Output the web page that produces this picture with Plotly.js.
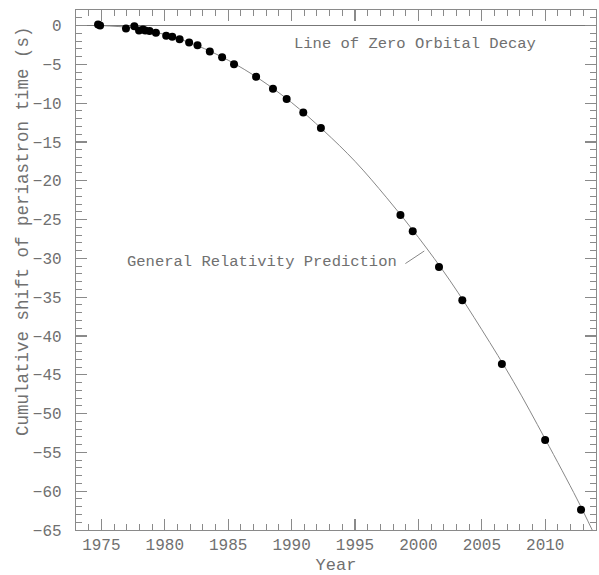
<!DOCTYPE html>
<html>
<head>
<meta charset="utf-8">
<script src="https://cdn.plot.ly/plotly-3.0.1.min.js"></script>
<style>html,body{margin:0;padding:0;background:#fff;}#chart{width:599px;height:575px;}</style>
</head>
<body>
<div id="chart"></div>
<script>
// Measured periastron shift data (year, seconds)
const obsYears = [1974.74, 1974.9, 1976.94, 1977.6, 1977.97, 1978.28, 1978.46, 1978.8, 1979.3,
  1980.11, 1980.59, 1981.17, 1981.92, 1982.58, 1983.55, 1984.52, 1985.46, 1987.2, 1988.53,
  1989.61, 1990.92, 1992.31, 1998.58, 1999.55, 2001.62, 2003.46, 2006.58, 2009.99, 2012.82];
const obsShift = [0.13, 0.0, -0.39, -0.09, -0.64, -0.51, -0.64, -0.69, -0.94,
  -1.33, -1.46, -1.76, -2.19, -2.53, -3.35, -4.08, -4.98, -6.61, -8.15,
  -9.48, -11.2, -13.2, -24.4, -26.5, -31.1, -35.4, -43.6, -53.4, -62.4];
// General relativity prediction curve
const grYears = [1974.8, 1977.5, 1980, 1982.5, 1985, 1987.5, 1990, 1992.5, 1995, 1997.5, 2000, 2002.5, 2005, 2007.5, 2010, 2012.5, 2013.7];
const grShift = [0, -0.31, -1.16, -2.55, -4.47, -6.93, -9.93, -13.5, -17.5, -22.2, -27.3, -32.9, -39.2, -45.9, -53.3, -61.0, -65.0];
// Line of zero orbital decay
const zeroYears = [1973, 2014];
const zeroShift = [0, 0];
const xTicks = [1975, 1980, 1985, 1990, 1995, 2000, 2005, 2010];
const yTicks = [0, -5, -10, -15, -20, -25, -30, -35, -40, -45, -50, -55, -60, -65];

const FONT = "Liberation Mono, Courier New, monospace";
const TXT = "#707070";
const AX = "#8a8a8a";

const traces = [
  {x: zeroYears, y: zeroShift, mode: 'lines', line: {color: '#777', width: 1.2}, hoverinfo: 'skip'},
  {x: grYears, y: grShift, mode: 'lines', line: {color: '#888', width: 1, shape: 'spline'}, hoverinfo: 'skip'},
  {x: obsYears, y: obsShift, mode: 'markers', marker: {color: '#000', size: 8}}
];

const axCommon = {
  showgrid: false, zeroline: false, showline: true, linecolor: AX, linewidth: 1.2,
  mirror: 'allticks', ticks: 'inside', ticklen: 11, tickwidth: 1.2, tickcolor: AX,
  tickfont: {family: FONT, size: 16, color: TXT},
  minor: {ticks: 'inside', ticklen: 6, tickwidth: 1, tickcolor: AX, showgrid: false}
};

const layout = {
  width: 599, height: 575,
  margin: {l: 76, r: 3, t: 10, b: 45},
  paper_bgcolor: '#fff', plot_bgcolor: '#fff',
  showlegend: false,
  xaxis: Object.assign({}, axCommon, {
    range: [1973, 2014], tickmode: 'array', tickvals: xTicks, ticktext: xTicks.map(String),
    minor: Object.assign({}, axCommon.minor, {dtick: 1, tick0: 1973}),
    title: {text: 'Year', font: {family: FONT, size: 17, color: TXT}, standoff: 5}
  }),
  yaxis: Object.assign({}, axCommon, {
    range: [-65, 2], tickmode: 'array', tickvals: yTicks,
    ticktext: yTicks.map(v => v < 0 ? '\u2212' + Math.abs(v) : String(v)),
    ticklabelstandoff: 10,
    minor: Object.assign({}, axCommon.minor, {dtick: 1, tick0: 0})
  }),
  annotations: [
    {x: -0.102, y: 0.575, xref: 'paper', yref: 'paper', xanchor: 'center', yanchor: 'middle', textangle: -90,
     text: 'Cumulative shift of periastron time (s)', showarrow: false,
     font: {family: FONT, size: 17.5, color: TXT}},
    {x: 1999.72, y: -2.36, xref: 'x', yref: 'y', text: 'Line of Zero Orbital Decay', showarrow: false,
     font: {family: FONT, size: 15.5, color: TXT}},
    {x: 1987.68, y: -30.5, xref: 'x', yref: 'y', text: 'General Relativity Prediction', showarrow: false,
     font: {family: FONT, size: 15.5, color: TXT}}
  ],
  shapes: [
    {type: 'line', xref: 'x', yref: 'y', x0: 1998.97, y0: -30.67, x1: 2000.46, y1: -29.05,
     line: {color: '#888', width: 1}}
  ]
};

Plotly.newPlot('chart', traces, layout, {displayModeBar: false, staticPlot: true});
</script>
</body>
</html>
